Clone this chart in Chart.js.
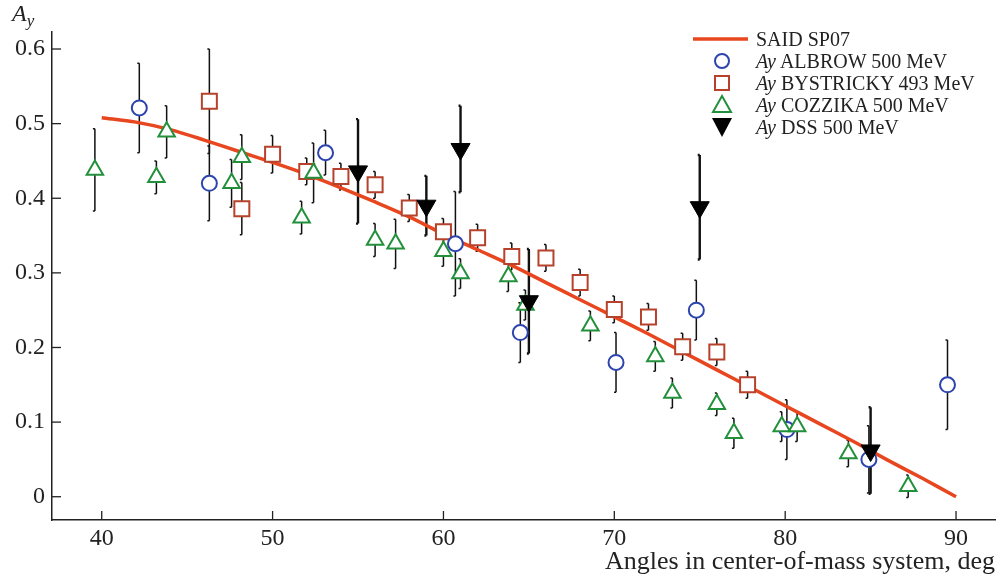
<!DOCTYPE html>
<html>
<head>
<meta charset="utf-8">
<script src="https://cdn.jsdelivr.net/npm/chart.js@4.4.0/dist/chart.umd.min.js"></script>
<style>
  html, body { margin: 0; padding: 0; background: #fff; overflow: hidden; }
  #wrap { position: relative; width: 998px; height: 582px; }
  canvas { display: block; }
  #ejeY { position: absolute; left: 12px; top: 0px; font: italic 24px 'Liberation Serif', serif; color: #222; }
  #ejeY sub { font-size: 17px; vertical-align: -5px; }
  #leyenda { position: absolute; left: 690px; top: 28px; font: 20px 'Liberation Serif', serif; color: #222; }
  .fila { display: flex; align-items: center; height: 22px; white-space: nowrap; }
  .fila svg { width: 62px; height: 22px; margin-right: 4px; flex: none; }
</style>
</head>
<body>
<div id="wrap">
  <canvas id="grafico" width="998" height="582"></canvas>
  <div id="ejeY">A<sub>y</sub></div>
  <div id="leyenda"></div>
</div>
<script>
// Datos
const saidAngulos = [40, 42, 44, 46, 48, 50, 52, 54, 56, 58, 60, 62, 64, 66, 68, 70, 72, 74, 76, 78, 80, 82, 84, 86, 88, 90];
const saidAy = [0.508, 0.502, 0.492, 0.478, 0.463, 0.448, 0.432, 0.414, 0.395, 0.375, 0.352, 0.331, 0.310, 0.287, 0.264, 0.241, 0.218, 0.194, 0.170, 0.146, 0.122, 0.098, 0.074, 0.049, 0.025, 0.0];

const albrowAngulos = [42.2, 46.3, 53.1, 60.7, 64.5, 70.1, 74.8, 80.1, 84.9, 89.5];
const albrowAy = [0.521, 0.42, 0.461, 0.339, 0.22, 0.18, 0.25, 0.09, 0.05, 0.15];
const albrowErr = [0.06, 0.05, 0.03, 0.07, 0.04, 0.04, 0.04, 0.04, 0.045, 0.06];

const bystrickyAngulos = [46.3, 48.2, 50, 52, 54, 56, 58, 60, 62, 64, 66, 68, 70, 72, 74, 76, 77.8];
const bystrickyAy = [0.53, 0.386, 0.459, 0.436, 0.429, 0.418, 0.387, 0.355, 0.347, 0.322, 0.32, 0.287, 0.251, 0.241, 0.201, 0.194, 0.15];
const bystrickyErr = [0.07, 0.035, 0.025, 0.018, 0.018, 0.018, 0.018, 0.018, 0.018, 0.018, 0.018, 0.018, 0.018, 0.018, 0.018, 0.018, 0.018];

const cozzikaAngulos = [39.6, 43.2, 43.8, 47.6, 48.2, 51.7, 52.4, 56.0, 57.2, 60.0, 61.0, 63.8, 64.8, 68.6, 72.4, 73.4, 76.0, 77.0, 79.8, 80.7, 83.7, 87.2];
const cozzikaAy = [0.438, 0.428, 0.489, 0.42, 0.455, 0.374, 0.434, 0.344, 0.339, 0.329, 0.299, 0.295, 0.257, 0.229, 0.188, 0.139, 0.124, 0.085, 0.094, 0.094, 0.058, 0.014];
const cozzikaErr = [0.055, 0.022, 0.035, 0.032, 0.03, 0.022, 0.04, 0.022, 0.033, 0.02, 0.02, 0.02, 0.02, 0.02, 0.02, 0.02, 0.015, 0.02, 0.02, 0.02, 0.018, 0.015];

const dssAngulos = [55, 59, 61, 65, 75, 85];
const dssAy = [0.436, 0.39, 0.466, 0.262, 0.388, 0.062];
const dssErr = [0.07, 0.04, 0.058, 0.07, 0.07, 0.058];

const ticksX = [40, 50, 60, 70, 80, 90];
const ticksY = [0, 0.1, 0.2, 0.3, 0.4, 0.5, 0.6];

const colorAlbrow = '#2d44ad';
const colorBystricky = '#b6422c';
const colorCozzika = '#22903a';
const colorSaid = '#e8461e';

const puntos = (xs, ys) => xs.map((v, i) => ({ x: v, y: ys[i] }));

// Barras de error y marcas de los ejes hacia adentro
const barrasError = {
    id: 'barrasError',
    beforeDatasetsDraw(chart) {
        const { ctx, scales: { x, y } } = chart;
        ctx.save();
        ctx.strokeStyle = '#111';
        chart.data.datasets.forEach(ds => {
            if (!ds.errores) return;
            ctx.lineWidth = ds.grosorError || 1.5;
            ds.data.forEach((p, i) => {
                const e = ds.errores[i];
                const px = x.getPixelForValue(p.x);
                const arriba = y.getPixelForValue(p.y + e);
                const abajo = y.getPixelForValue(p.y - e);
                ctx.beginPath();
                ctx.moveTo(px, arriba); ctx.lineTo(px, abajo);
                ctx.moveTo(px - 2, arriba); ctx.lineTo(px, arriba);
                ctx.moveTo(px - 2, abajo); ctx.lineTo(px, abajo);
                ctx.stroke();
            });
        });
        ctx.restore();
    },
    afterDraw(chart) {
        const { ctx, scales: { x, y } } = chart;
        ctx.save();
        ctx.strokeStyle = '#222';
        ctx.lineWidth = 1.3;
        ticksX.forEach(v => {
            const px = x.getPixelForValue(v);
            ctx.beginPath(); ctx.moveTo(px, y.bottom); ctx.lineTo(px, y.bottom - 9); ctx.stroke();
        });
        ticksY.forEach(v => {
            const py = y.getPixelForValue(v);
            ctx.beginPath(); ctx.moveTo(x.left, py); ctx.lineTo(x.left + 9, py); ctx.stroke();
        });
        ctx.restore();
    }
};

Chart.defaults.font.family = "'Liberation Serif', serif";
Chart.defaults.color = '#222';

new Chart(document.getElementById('grafico'), {
    type: 'scatter',
    data: {
        datasets: [
            {
                label: 'SAID SP07',
                type: 'line',
                data: puntos(saidAngulos, saidAy),
                borderColor: colorSaid,
                borderWidth: 3.5,
                pointRadius: 0,
                tension: 0.3,
                fill: false,
                order: 10
            },
            {
                label: 'Ay ALBROW 500 MeV',
                data: puntos(albrowAngulos, albrowAy),
                errores: albrowErr,
                pointStyle: 'circle',
                pointRadius: 7.5,
                borderWidth: 2,
                borderColor: colorAlbrow,
                backgroundColor: '#fff',
                order: 3
            },
            {
                label: 'Ay BYSTRICKY 493 MeV',
                data: puntos(bystrickyAngulos, bystrickyAy),
                errores: bystrickyErr,
                pointStyle: 'rect',
                pointRadius: 10.6,
                borderWidth: 2,
                borderColor: colorBystricky,
                backgroundColor: '#fff',
                order: 4
            },
            {
                label: 'Ay COZZIKA 500 MeV',
                data: puntos(cozzikaAngulos, cozzikaAy),
                errores: cozzikaErr,
                pointStyle: 'triangle',
                pointRadius: 9.5,
                borderWidth: 2,
                borderColor: colorCozzika,
                backgroundColor: '#fff',
                order: 2
            },
            {
                label: 'Ay DSS 500 MeV',
                data: puntos(dssAngulos, dssAy),
                errores: dssErr,
                grosorError: 2.4,
                pointStyle: 'triangle',
                rotation: 180,
                pointRadius: 11,
                borderWidth: 1,
                borderColor: '#000',
                backgroundColor: '#000',
                order: 0
            }
        ]
    },
    options: {
        responsive: false,
        animation: false,
        events: [],
        layout: { autoPadding: false, padding: { top: 32, right: 3, left: 0, bottom: 0 } },
        plugins: {
            legend: { display: false },
            tooltip: { enabled: false }
        },
        scales: {
            x: {
                type: 'linear',
                min: 37.09,
                max: 92.28,
                grid: { display: false, drawTicks: false },
                border: { display: true, color: '#222', width: 1.5 },
                afterBuildTicks: s => { s.ticks = ticksX.map(v => ({ value: v })); },
                afterFit: s => { s.height = 62; s.paddingLeft = 0; s.paddingRight = 0; },
                ticks: { font: { size: 24 }, padding: 4, maxRotation: 0 },
                title: {
                    display: true,
                    text: 'Angles in center-of-mass system, deg',
                    align: 'end',
                    font: { size: 26 },
                    padding: { top: 0, bottom: 4 }
                }
            },
            y: {
                type: 'linear',
                min: -0.0312,
                max: 0.6228,
                grid: { display: false, drawTicks: false },
                border: { display: true, color: '#222', width: 1.5 },
                afterBuildTicks: s => { s.ticks = ticksY.map(v => ({ value: v })); },
                afterFit: s => { s.width = 52; s.paddingTop = 0; s.paddingBottom = 0; },
                ticks: {
                    font: { size: 24 },
                    padding: 7,
                    callback: v => v === 0 ? '0' : v.toFixed(1)
                }
            }
        }
    },
    plugins: [barrasError]
});

// Leyenda en HTML
const itemsLeyenda = [
    { simbolo: `<line x1="3" y1="11" x2="58" y2="11" stroke="${colorSaid}" stroke-width="3.5"/>`, texto: 'SAID SP07' },
    { simbolo: `<circle cx="32" cy="11" r="7" fill="none" stroke="${colorAlbrow}" stroke-width="2"/>`, texto: '<i>Ay</i> ALBROW 500 MeV' },
    { simbolo: `<rect x="25" y="4" width="14" height="14" fill="none" stroke="${colorBystricky}" stroke-width="2"/>`, texto: '<i>Ay</i> BYSTRICKY 493 MeV' },
    { simbolo: `<polygon points="32,2 41,18 23,18" fill="none" stroke="${colorCozzika}" stroke-width="2"/>`, texto: '<i>Ay</i> COZZIKA 500 MeV' },
    { simbolo: `<polygon points="22,2 42,2 32,21" fill="#000"/>`, texto: '<i>Ay</i> DSS 500 MeV' }
];
document.getElementById('leyenda').innerHTML = itemsLeyenda
    .map(it => `<div class="fila"><svg viewBox="0 0 62 22">${it.simbolo}</svg><span>${it.texto}</span></div>`)
    .join('');
</script>
</body>
</html>
